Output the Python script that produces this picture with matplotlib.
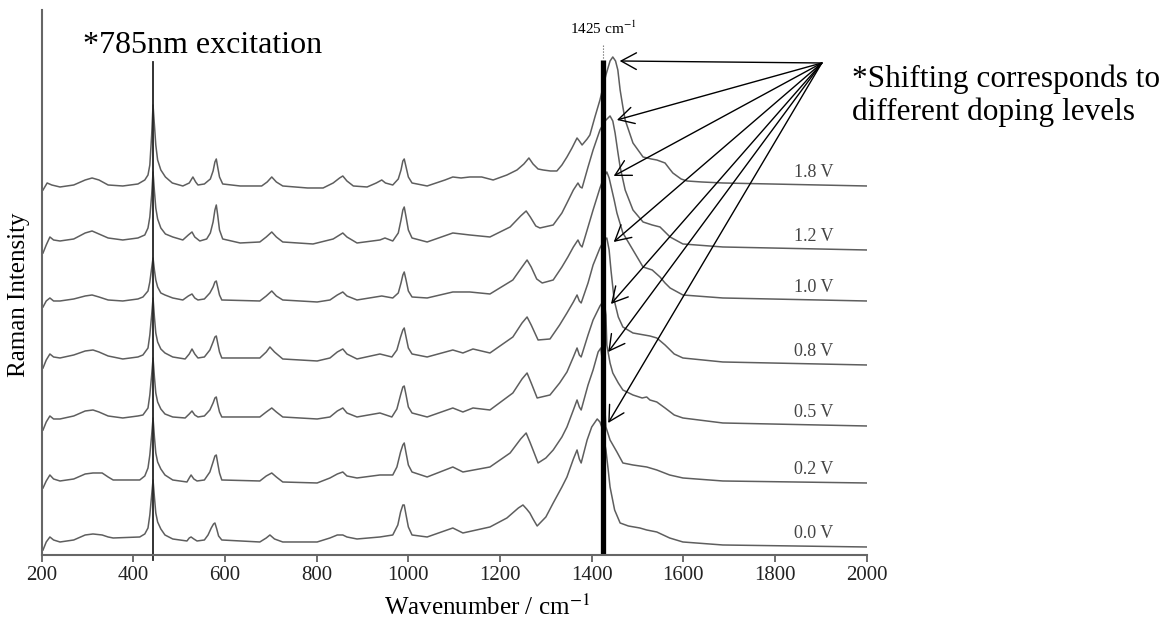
import numpy as np
import matplotlib
matplotlib.use("Agg")
import matplotlib.pyplot as plt

plt.rcParams['font.family'] = ['Liberation Serif', 'DejaVu Serif']
plt.rcParams['mathtext.fontset'] = 'stix'

# espectros Raman: pares (wavenumber cm-1, intensidade u.a.)
pares_18 = [(203, 365), (212, 372), (222, 370), (240, 368), (270, 370), (295, 375), (310, 377), (325, 375),
            (345, 370), (377, 369), (410, 371), (425, 375), (432, 380), (436, 390), (440, 420), (443, 450),
            (446, 430), (449, 410), (453, 395), (460, 385), (470, 378), (485, 372), (508, 369), (522, 372),
            (530, 378), (536, 373), (541, 370), (555, 371), (568, 376), (574, 384), (578, 393), (581, 396),
            (584, 388), (588, 378), (595, 371), (633, 369), (680, 369), (692, 373), (702, 378), (712, 373),
            (726, 369), (780, 367), (814, 367), (836, 372), (850, 377), (857, 379), (866, 374), (880, 369),
            (910, 368), (930, 372), (942, 375), (950, 372), (966, 370), (978, 376), (984, 385), (988, 394),
            (991, 396), (995, 388), (1000, 378), (1008, 372), (1041, 369), (1080, 375), (1097, 378), (1115, 377),
            (1134, 378), (1160, 378), (1185, 375), (1215, 380), (1237, 385), (1252, 391), (1263, 397), (1272, 391),
            (1283, 386), (1294, 385), (1310, 384), (1324, 384), (1335, 390), (1346, 398), (1357, 407), (1368, 417),
            (1373, 414), (1379, 410), (1390, 416), (1396, 420), (1407, 438), (1418, 455), (1431, 480), (1440, 494),
            (1446, 498), (1452, 494), (1457, 485), (1462, 465), (1468, 448), (1473, 435), (1490, 412), (1512, 398),
            (1530, 396), (1542, 395), (1560, 392), (1570, 386), (1577, 382), (1595, 376), (1608, 374), (1640, 373),
            (1686, 372), (2000, 369)]

pares_12 = [(203, 302), (210, 310), (218, 318), (226, 315), (240, 314), (270, 316), (295, 322), (310, 324),
            (325, 321), (345, 317), (377, 315), (410, 317), (425, 320), (432, 327), (436, 338), (440, 360),
            (443, 383), (446, 364), (449, 347), (453, 336), (460, 327), (470, 321), (486, 318), (508, 315),
            (520, 320), (528, 323), (534, 318), (545, 314), (560, 316), (568, 322), (574, 333), (578, 345),
            (581, 350), (584, 340), (588, 325), (595, 316), (633, 312), (676, 313), (690, 318), (702, 323),
            (712, 318), (726, 313), (792, 311), (836, 316), (850, 320), (857, 322), (866, 318), (888, 312),
            (938, 315), (949, 317), (966, 314), (978, 322), (984, 335), (988, 345), (991, 348), (995, 338),
            (1000, 325), (1008, 317), (1041, 313), (1097, 322), (1134, 320), (1178, 318), (1222, 328), (1245, 339),
            (1257, 344), (1266, 338), (1278, 329), (1287, 327), (1316, 330), (1335, 342), (1346, 352), (1360, 365),
            (1370, 372), (1375, 368), (1379, 367), (1392, 388), (1403, 405), (1418, 425), (1429, 434), (1440, 439),
            (1446, 434), (1451, 422), (1457, 403), (1462, 388), (1473, 365), (1490, 345), (1512, 333), (1532, 330),
            (1549, 328), (1560, 323), (1571, 318), (1599, 311), (1686, 308), (2000, 305)]

pares_10 = [(203, 248), (210, 254), (218, 257), (226, 254), (240, 254), (270, 256), (295, 259), (310, 260),
            (325, 258), (345, 255), (377, 254), (410, 256), (421, 258), (432, 264), (436, 273), (440, 287),
            (443, 297), (446, 285), (449, 275), (453, 268), (460, 262), (469, 260), (486, 257), (508, 255),
            (520, 259), (528, 261), (534, 257), (541, 255), (555, 256), (567, 262), (574, 268), (578, 273),
            (581, 274), (584, 268), (588, 260), (593, 255), (676, 254), (690, 259), (702, 264), (712, 259),
            (726, 255), (801, 253), (829, 255), (845, 260), (857, 263), (866, 259), (888, 255), (942, 259),
            (966, 257), (978, 262), (984, 272), (988, 280), (991, 283), (995, 275), (1000, 264), (1008, 258),
            (1041, 257), (1097, 263), (1134, 263), (1178, 261), (1228, 275), (1248, 288), (1259, 295), (1268, 288),
            (1280, 276), (1292, 272), (1316, 275), (1335, 288), (1348, 298), (1360, 308), (1370, 315), (1375, 310),
            (1379, 308), (1392, 328), (1403, 345), (1418, 367), (1426, 377), (1433, 383), (1438, 377), (1444, 365),
            (1449, 355), (1455, 342), (1468, 322), (1490, 305), (1512, 288), (1532, 285), (1549, 278), (1560, 272),
            (1571, 267), (1599, 260), (1686, 257), (2000, 254)]

pares_08 = [(203, 187), (210, 195), (218, 201), (226, 198), (240, 197), (270, 200), (295, 204), (312, 205),
            (325, 203), (345, 199), (377, 196), (410, 198), (421, 200), (432, 207), (436, 220), (440, 240),
            (443, 257), (446, 238), (449, 222), (453, 213), (460, 206), (469, 202), (486, 198), (513, 196),
            (522, 201), (528, 206), (534, 201), (541, 197), (555, 198), (567, 205), (574, 213), (578, 218),
            (581, 219), (584, 212), (588, 203), (593, 197), (676, 197), (690, 203), (698, 208), (708, 203),
            (726, 196), (801, 194), (829, 197), (845, 203), (857, 206), (866, 201), (888, 196), (938, 201),
            (964, 198), (975, 205), (983, 218), (988, 225), (991, 227), (995, 218), (1000, 207), (1008, 201),
            (1041, 198), (1097, 205), (1119, 202), (1141, 206), (1178, 202), (1228, 218), (1248, 232), (1259, 238),
            (1268, 230), (1283, 215), (1309, 216), (1330, 230), (1346, 242), (1360, 253), (1368, 260), (1373, 254),
            (1377, 252), (1392, 272), (1403, 290), (1418, 307), (1426, 314), (1433, 317), (1438, 305), (1442, 285),
            (1449, 255), (1458, 238), (1468, 228), (1490, 222), (1527, 219), (1542, 217), (1560, 210), (1580, 201),
            (1599, 197), (1686, 193), (2000, 190)]

pares_05 = [(203, 125), (210, 133), (218, 139), (226, 136), (240, 136), (270, 139), (295, 144), (312, 145),
            (325, 143), (345, 139), (377, 137), (410, 139), (421, 140), (432, 147), (436, 160), (440, 180),
            (443, 197), (446, 178), (449, 162), (453, 153), (460, 146), (469, 141), (486, 138), (513, 137),
            (522, 141), (528, 144), (534, 140), (541, 138), (555, 139), (567, 145), (574, 152), (578, 157),
            (581, 158), (584, 151), (588, 143), (593, 138), (676, 138), (690, 143), (702, 147), (712, 143),
            (726, 138), (801, 136), (829, 138), (845, 144), (857, 147), (866, 142), (888, 138), (938, 142),
            (964, 138), (975, 146), (983, 160), (988, 168), (991, 169), (995, 160), (1000, 148), (1008, 142),
            (1041, 138), (1097, 147), (1119, 143), (1141, 147), (1178, 145), (1228, 162), (1248, 176), (1259, 182),
            (1268, 172), (1281, 157), (1309, 160), (1330, 172), (1346, 183), (1360, 198), (1368, 207), (1373, 200),
            (1377, 198), (1392, 220), (1403, 235), (1418, 249), (1427, 255), (1431, 240), (1433, 210), (1440, 192),
            (1446, 182), (1458, 172), (1468, 165), (1490, 160), (1510, 157), (1520, 158), (1527, 155), (1542, 153),
            (1560, 147), (1580, 140), (1599, 137), (1686, 132), (2000, 129)]

pares_02 = [(203, 67), (210, 74), (218, 80), (226, 76), (240, 74), (270, 76), (295, 81), (312, 82),
            (332, 82), (345, 78), (356, 75), (414, 75), (425, 79), (432, 87), (436, 100), (440, 120),
            (443, 137), (446, 118), (449, 102), (453, 93), (460, 86), (469, 80), (486, 75), (517, 73),
            (522, 77), (526, 80), (532, 76), (539, 74), (555, 75), (567, 83), (574, 93), (578, 99),
            (581, 100), (584, 92), (588, 82), (593, 75), (676, 74), (690, 79), (702, 82), (712, 78),
            (726, 73), (801, 72), (829, 77), (845, 81), (857, 83), (866, 79), (888, 77), (938, 80),
            (966, 80), (975, 88), (983, 103), (988, 110), (991, 112), (995, 102), (1000, 90), (1008, 83),
            (1041, 78), (1097, 88), (1119, 83), (1178, 88), (1222, 102), (1245, 116), (1257, 122), (1266, 112),
            (1272, 105), (1283, 92), (1300, 97), (1316, 105), (1335, 118), (1346, 128), (1360, 145), (1368, 155),
            (1373, 148), (1377, 145), (1392, 170), (1403, 185), (1414, 203), (1420, 207), (1424, 190), (1427, 160),
            (1431, 128), (1440, 115), (1455, 103), (1468, 92), (1490, 90), (1520, 88), (1542, 85), (1570, 80),
            (1599, 77), (1686, 74), (2000, 72)]

pares_00 = [(203, 5), (210, 13), (218, 18), (226, 15), (240, 13), (270, 15), (295, 20), (312, 21),
            (332, 20), (345, 18), (356, 17), (414, 18), (425, 21), (432, 27), (436, 40), (440, 60),
            (443, 75), (446, 58), (449, 42), (453, 33), (460, 26), (469, 20), (486, 16), (517, 14),
            (522, 17), (526, 18), (532, 16), (539, 14), (555, 15), (563, 20), (570, 27), (575, 31),
            (578, 32), (582, 26), (586, 19), (593, 15), (676, 13), (690, 17), (698, 20), (708, 16),
            (726, 13), (801, 13), (829, 17), (845, 20), (857, 20), (866, 18), (888, 16), (938, 18),
            (966, 20), (977, 30), (983, 43), (988, 50), (991, 50), (995, 40), (1000, 28), (1008, 20),
            (1041, 18), (1097, 27), (1119, 22), (1178, 28), (1215, 37), (1240, 47), (1250, 50), (1258, 46),
            (1265, 42), (1272, 36), (1281, 29), (1300, 38), (1316, 52), (1335, 68), (1346, 78), (1360, 96),
            (1368, 105), (1373, 96), (1377, 92), (1390, 115), (1400, 128), (1412, 136), (1418, 133), (1422, 128),
            (1427, 115), (1431, 105), (1436, 85), (1440, 68), (1450, 45), (1462, 32), (1480, 29), (1505, 27),
            (1520, 25), (1542, 23), (1570, 17), (1599, 13), (1686, 10), (2000, 8)]

voltagens = ['1.8 V', '1.2 V', '1.0 V', '0.8 V', '0.5 V', '0.2 V', '0.0 V']
espectros = [pares_18, pares_12, pares_10, pares_08, pares_05, pares_02, pares_00]

excitacao = 443
pico_ref = 1425
ticks_x = [200, 400, 600, 800, 1000, 1200, 1400, 1600, 1800, 2000]

fig = plt.figure(figsize=(11.7, 6.24), dpi=100)
ax = fig.add_axes([0.0356, 0.1106, 0.7052, 0.8734])

origem = (1902, 492)
for pares, v in zip(espectros, voltagens):
    wn, inten = np.array(pares).T
    ax.plot(wn, inten, color='#5e5e5e', linewidth=1.1)
    ax.text(1885, np.interp(1885, wn, inten) + 8, v, ha='center', va='baseline',
            fontsize=13, color='#444444')

    # seta apontando para o pico deslocado
    faixa = (wn > 1380) & (wn < 1480)
    i = np.argmax(np.where(faixa, inten, -1))
    alvo = (max(wn[i] + 15, 1436), inten[i] - 4)
    ax.annotate('', xy=alvo, xytext=origem,
                arrowprops=dict(arrowstyle='->, head_length=0.55, head_width=0.3',
                                color='black', linewidth=1.0, shrinkA=0, shrinkB=0,
                                mutation_scale=20),
                annotation_clip=False)

# linha da excitacao e linha de 1425 cm-1
ax.plot([excitacao, excitacao], [-5, 493], color='#222222', linewidth=1.3, clip_on=False)
ax.plot([pico_ref, pico_ref], [0, 495], color='black', linewidth=3.8, solid_capstyle='butt')
ax.plot([pico_ref, pico_ref], [497, 511], color='#555555', linewidth=0.8, linestyle=':')
ax.text(pico_ref, 521, '1425 cm$^{-1}$', ha='center', va='baseline', fontsize=11)
ax.text(290, 502, '*785nm excitation', ha='left', va='baseline', fontsize=23)

fig.text(0.7282, 0.8606, '*Shifting corresponds to', fontsize=22.5, va='baseline')
fig.text(0.7282, 0.8077, 'different doping levels', fontsize=22.5, va='baseline')

ax.set_xlim(200, 2000)
ax.set_ylim(0, 545)
ax.set_xticks(ticks_x)
ax.set_yticks([])
ax.tick_params(axis='x', direction='out', length=5, width=1.2, colors='#555555',
               labelsize=15, labelcolor='#222222', pad=3)
for lado in ['top', 'right']:
    ax.spines[lado].set_visible(False)
for lado in ['left', 'bottom']:
    ax.spines[lado].set_color('#666666')
    ax.spines[lado].set_linewidth(1.5)

ax.set_xlabel('Wavenumber / cm$^{-1}$', fontsize=18)
ax.xaxis.set_label_coords(0.54, -0.072)
ax.set_ylabel('Raman Intensity', fontsize=18)
ax.yaxis.set_label_coords(-0.014, 0.477)

fig.savefig('out.png', dpi=100)
